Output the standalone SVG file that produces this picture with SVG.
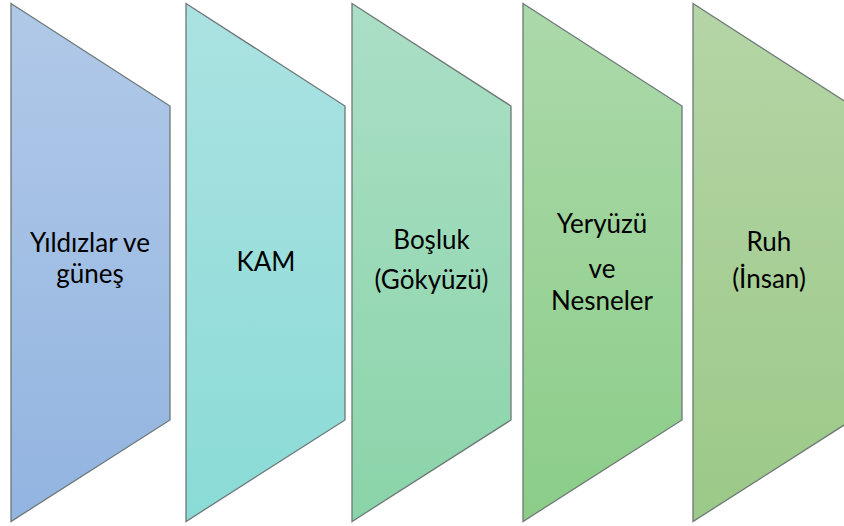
<svg xmlns="http://www.w3.org/2000/svg" width="844" height="526" viewBox="0 0 844 526">
<style>
.s{stroke:#6e7878;stroke-width:1.3;stroke-linejoin:miter}
.t{font-family:Lato,"Open Sans","Liberation Sans",sans-serif;font-size:26px;fill:#000;text-anchor:middle}
</style>
<defs>
<linearGradient id="g1" x1="0" y1="0" x2="0" y2="1"><stop offset="0" stop-color="#b1c9e8"/><stop offset="1" stop-color="#92b4e0"/></linearGradient>
<linearGradient id="g2" x1="0" y1="0" x2="0" y2="1"><stop offset="0" stop-color="#abe2e2"/><stop offset="1" stop-color="#8adbd7"/></linearGradient>
<linearGradient id="g3" x1="0" y1="0" x2="0" y2="1"><stop offset="0" stop-color="#abdfc6"/><stop offset="1" stop-color="#8ad4a9"/></linearGradient>
<linearGradient id="g4" x1="0" y1="0" x2="0" y2="1"><stop offset="0" stop-color="#acd9aa"/><stop offset="1" stop-color="#8bcd88"/></linearGradient>
<linearGradient id="g5" x1="0" y1="0" x2="0" y2="1"><stop offset="0" stop-color="#b5d5a6"/><stop offset="1" stop-color="#9bc987"/></linearGradient>
</defs>
<g id="node1">
<polygon class="s" fill="url(#g1)" points="11,3.5 170,106 170,420 11,521.5"/>
<text class="t" x="90" y="252">Yıldızlar ve</text>
<text class="t" x="90" y="283">güneş</text>
</g>
<g id="node2">
<polygon class="s" fill="url(#g2)" points="186,3.5 345,106 345,420 186,521.5"/>
<text class="t" x="266" y="271">KAM</text>
</g>
<g id="node3">
<polygon class="s" fill="url(#g3)" points="352,3.5 511,106 511,420 352,521.5"/>
<text class="t" x="431.5" y="249">Boşluk</text>
<text class="t" x="431.5" y="289">(Gökyüzü)</text>
</g>
<g id="node4">
<polygon class="s" fill="url(#g4)" points="523,3.5 682,106 682,420 523,521.5"/>
<text class="t" x="602" y="233">Yeryüzü</text>
<text class="t" x="602" y="278">ve</text>
<text class="t" x="602" y="310">Nesneler</text>
</g>
<g id="node5">
<polygon class="s" fill="url(#g5)" points="693,3.5 852,106 852,420 693,521.5"/>
<text class="t" x="769" y="251">Ruh</text>
<text class="t" x="769" y="288">(İnsan)</text>
</g>
<g id="connectors"></g>
</svg>
